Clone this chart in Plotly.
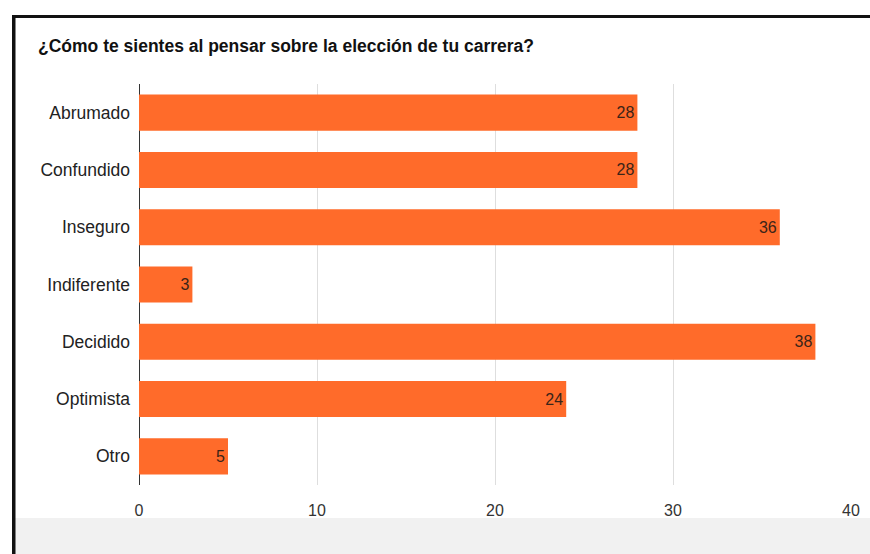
import plotly.graph_objects as go

categories = ["Abrumado", "Confundido", "Inseguro", "Indiferente", "Decidido", "Optimista", "Otro"]
values = [28, 28, 36, 3, 38, 24, 5]
x_ticks = [0, 10, 20, 30, 40]
title_text = "¿Cómo te sientes al pensar sobre la elección de tu carrera?"

W, H = 870, 554
L, R, T, B = 139, 19, 84, 69
pw, ph = W - L - R, H - T - B

def px(x):
    return (x - L) / pw

def py(y):
    return (H - B - y) / ph

fig = go.Figure(go.Bar(
    y=categories, x=values, orientation="h",
    marker=dict(color="#FF6B2A", line=dict(width=0)),
    text=[str(v) for v in values], textposition="inside", insidetextanchor="end",
    textfont=dict(color="#3a2418", size=16, family="Liberation Sans"),
    cliponaxis=False,
))

fig.update_layout(
    width=W, height=H,
    margin=dict(l=L, r=R, t=T, b=B, autoexpand=False),
    paper_bgcolor="white", plot_bgcolor="white",
    bargap=0.37,
    showlegend=False,
    font=dict(family="Liberation Sans", size=17, color="#222"),
    title=dict(text="<b>" + title_text + "</b>", x=38 / W, xanchor="left",
               y=1 - 46 / H, yanchor="middle",
               font=dict(family="Liberation Sans", size=17.5, color="#111")),
    xaxis=dict(range=[0, 40], tickvals=x_ticks, showgrid=True, gridcolor="#dedede",
               gridwidth=1, zeroline=True, zerolinecolor="#333", zerolinewidth=1,
               tickfont=dict(size=16, color="#333"), ticks="", ticklabelstandoff=14,
               fixedrange=True, automargin=False),
    yaxis=dict(categoryorder="array", categoryarray=categories[::-1],
               tickfont=dict(size=17.5, color="#222"), ticks="", ticklabelstandoff=8,
               showgrid=False, automargin=False),
    shapes=[
        dict(type="rect", xref="paper", yref="paper", x0=px(15), x1=px(W), y0=py(W), y1=py(518),
             fillcolor="#f1f1f1", line=dict(width=0), layer="below"),
        dict(type="rect", xref="paper", yref="paper", x0=px(12), x1=px(W), y0=py(18), y1=py(15),
             fillcolor="#111", line=dict(width=0)),
        dict(type="rect", xref="paper", yref="paper", x0=px(12), x1=px(15.5), y0=py(H), y1=py(15),
             fillcolor="#111", line=dict(width=0)),
    ],
)

fig.write_html("out.html")
